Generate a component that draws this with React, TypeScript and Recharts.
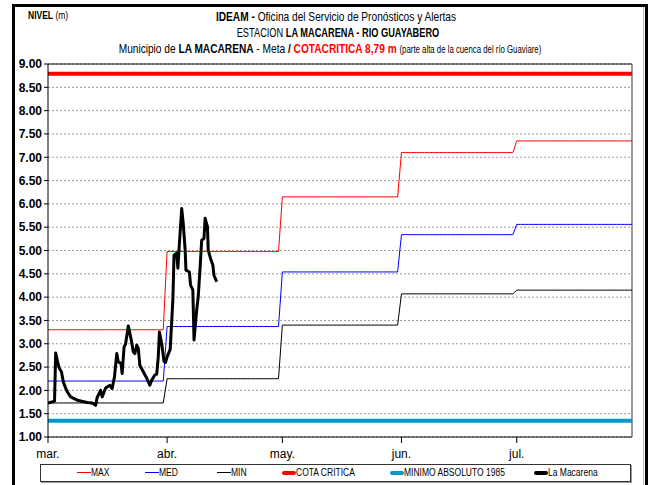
import React from "react";
import { LineChart, Line, XAxis, YAxis, CartesianGrid, ReferenceLine } from "recharts";

// ─── DATA ─────────────────────────────────────────────────────────────────────

const MONTH_LABELS = ["mar.", "abr.", "may.", "jun.", "jul."];
const MONTH_DAYS = [31, 30, 31, 30, 31];

// monthly reference levels (m)
const MAX_LEVELS = [3.3, 4.98, 6.15, 7.1, 7.35];
const MED_LEVELS = [2.2, 3.37, 4.54, 5.34, 5.56];
const MIN_LEVELS = [1.73, 2.25, 3.4, 4.07, 4.15];

const COTA_CRITICA = 8.79;
const MINIMO_ABSOLUTO = 1.35;

// observed La Macarena readings (day counted from 1 mar.)
const OBS_DAY = [
    0, 0.5, 1, 1.7, 2, 2.4, 2.9, 3.5, 4, 4.5, 5, 5.9, 7.6, 10.2, 11.5, 12.4, 12.8, 13.7, 14.1,
    15, 16.1, 16.7, 17.3, 17.9, 18.3, 19, 19.3, 19.8, 20.2, 20.9, 21.6, 22.2, 22.6, 23.1, 23.5,
    23.9, 24.8, 25.7, 26.5, 27, 27.8, 28.3, 28.7, 29, 29.6, 30.2, 30.6, 31, 31.8, 32.5, 32.8,
    33.5, 33.8, 34.2, 34.8, 35.2, 35.7, 35.9, 36.8, 37.1, 37.7, 38, 38.7, 39.1, 39.6, 40, 40.6,
    40.9, 41.5, 41.7, 42.3, 42.9, 43.2, 43.9,
];
const OBS_LEVEL = [
    1.73, 1.74, 1.75, 1.77, 2.8, 2.65, 2.48, 2.4, 2.18, 2.07, 1.97, 1.86, 1.79, 1.74, 1.73, 1.68, 1.85, 2.0, 1.86,
    2.05, 2.11, 2.04, 2.29, 2.79, 2.61, 2.58, 2.36, 2.93, 3.0, 3.38, 3.11, 2.83, 2.79, 2.97, 2.9,
    2.54, 2.4, 2.26, 2.11, 2.22, 2.33, 2.35, 2.72, 3.25, 3.0, 2.62, 2.6, 2.72, 2.88, 3.94, 4.9,
    4.94, 4.62, 5.15, 5.9, 5.58, 5.01, 4.58, 4.54, 4.26, 4.15, 3.08, 3.72, 4.01, 4.65, 5.22, 5.26,
    5.69, 5.51, 5.01, 4.83, 4.69, 4.47, 4.33,
];

const Y_TICKS = [1, 1.5, 2, 2.5, 3, 3.5, 4, 4.5, 5, 5.5, 6, 6.5, 7, 7.5, 8, 8.5, 9];

// ─── HELPERS ──────────────────────────────────────────────────────────────────

const monthStarts = MONTH_DAYS.map((_, i) => MONTH_DAYS.slice(0, i).reduce((s, d) => s + d, 0));
const LAST_DAY = MONTH_DAYS.reduce((s, d) => s + d, 0) - 1;

function daily(levels: number[]) {
    const out: { day: number; value: number }[] = [];
    levels.forEach((v, m) => {
        for (let d = 0; d < MONTH_DAYS[m]; d++) out.push({ day: monthStarts[m] + d, value: v });
    });
    return out;
}

const maxData = daily(MAX_LEVELS);
const medData = daily(MED_LEVELS);
const minData = daily(MIN_LEVELS);
const obsData = OBS_DAY.map((d, i) => ({ day: d, value: OBS_LEVEL[i] }));

const FONT = "'Liberation Sans', Arial, sans-serif";

const LEGEND = [
    { label: "MAX", color: "#ff0000", w: 1, x: 76 },
    { label: "MED", color: "#0000ff", w: 1, x: 144 },
    { label: "MIN", color: "#000000", w: 1, x: 216 },
    { label: "COTA CRITICA", color: "#ff0000", w: 4, x: 281 },
    { label: "MINIMO ABSOLUTO 1985", color: "#0099cc", w: 4, x: 389 },
    { label: "La Macarena", color: "#000000", w: 4, x: 533 },
];

// condensed title line, centred on cx
function TitleLine({ top, cx, sx, children }: { top: number; cx: number; sx: number; children: React.ReactNode }) {
    return (
        <div style={{
            position: "absolute", left: cx - 400, width: 800, top, textAlign: "center", fontSize: 13,
            whiteSpace: "nowrap", transform: `scaleX(${sx})`, transformOrigin: "400px 0",
        }}>
            {children}
        </div>
    );
}

// ─── COMPONENT ────────────────────────────────────────────────────────────────

export default function App() {
    return (
        <div style={{ position: "absolute", left: 0, top: 0, width: 648, height: 485, background: "#fff", overflow: "hidden", fontFamily: FONT }}>
            {/* outer frame */}
            <div style={{ position: "absolute", left: 12, top: 4, width: 636, height: 490, boxSizing: "border-box", borderLeft: "3px solid #000", borderTop: "3px solid #000", borderRight: "3px solid #000" }} />
            <div style={{ position: "absolute", left: 643, top: 7, width: 1, height: 480, background: "#bbb" }} />

            {/* titles */}
            <div style={{ position: "absolute", left: 28, top: 10, fontSize: 10, transform: "scaleX(0.85)", transformOrigin: "0 0" }}>
                <b>NIVEL</b> (m)
            </div>
            <TitleLine top={9} cx={336} sx={0.78}>
                <b>IDEAM - </b>Oficina del Servicio de Pronósticos y Alertas
            </TitleLine>
            <TitleLine top={25} cx={338} sx={0.71}>
                ESTACION <b>LA MACARENA - RIO GUAYABERO</b>
            </TitleLine>
            <TitleLine top={41} cx={330} sx={0.78}>
                Municipio de <b>LA MACARENA</b> - Meta <b>/</b> <b style={{ color: "#ff0000" }}>COTACRITICA 8,79 m</b>{" "}
                <span style={{ fontSize: 10 }}>(parte alta de la cuenca del río Guaviare)</span>
            </TitleLine>

            <div style={{ position: "absolute", left: 0, top: 0 }}>
                <LineChart width={648} height={485} margin={{ top: 64, right: 16, bottom: 18, left: 8 }}>
                    <CartesianGrid horizontal vertical={false} stroke="#999" strokeDasharray="2 2" />
                    <XAxis
                        type="number" dataKey="day" domain={[0, LAST_DAY]} ticks={monthStarts}
                        tickFormatter={(v) => MONTH_LABELS[monthStarts.indexOf(v)] ?? ""}
                        height={30} tickSize={6} tickMargin={6}
                        stroke="#000" tick={{ fill: "#000", fontSize: 12, fontFamily: FONT }}
                        allowDataOverflow
                    />
                    <YAxis
                        type="number" domain={[1, 9]} ticks={Y_TICKS} width={40}
                        tickFormatter={(v) => Number(v).toFixed(2)}
                        tickSize={4} tickMargin={2}
                        stroke="#000" tick={{ fill: "#000", fontSize: 12, fontWeight: 700, fontFamily: FONT }}
                        allowDataOverflow
                    />
                    <ReferenceLine y={9} stroke="#000" strokeWidth={1} />
                    <ReferenceLine x={LAST_DAY} stroke="#333" strokeWidth={1} />
                    <ReferenceLine y={COTA_CRITICA} stroke="#ff0000" strokeWidth={4} />
                    <ReferenceLine y={MINIMO_ABSOLUTO} stroke="#0099cc" strokeWidth={4} />
                    <Line data={maxData} dataKey="value" stroke="#ff0000" strokeWidth={1} dot={false} isAnimationActive={false} />
                    <Line data={medData} dataKey="value" stroke="#0000ff" strokeWidth={1} dot={false} isAnimationActive={false} />
                    <Line data={minData} dataKey="value" stroke="#000000" strokeWidth={1} dot={false} isAnimationActive={false} />
                    <Line data={obsData} dataKey="value" stroke="#000000" strokeWidth={3} dot={false} isAnimationActive={false} strokeLinejoin="round" />
                </LineChart>
            </div>

            {/* legend */}
            <div style={{ position: "absolute", left: 40, top: 464, width: 591, height: 18, boxSizing: "border-box", border: "1px solid #333", boxShadow: "1px 1px 0 #999", background: "#fff" }}>
                {LEGEND.map((l) => (
                    <div key={l.label} style={{ position: "absolute", left: l.x - 40, top: 2, display: "flex", alignItems: "center", fontSize: 10, whiteSpace: "nowrap" }}>
                        <span style={{ display: "inline-block", width: 14, height: l.w, background: l.color, borderRadius: l.w > 1 ? 2 : 0 }} />
                        <span style={{ display: "inline-block", transform: "scaleX(0.85)", transformOrigin: "0 50%" }}>{l.label}</span>
                    </div>
                ))}
            </div>
        </div>
    );
}
